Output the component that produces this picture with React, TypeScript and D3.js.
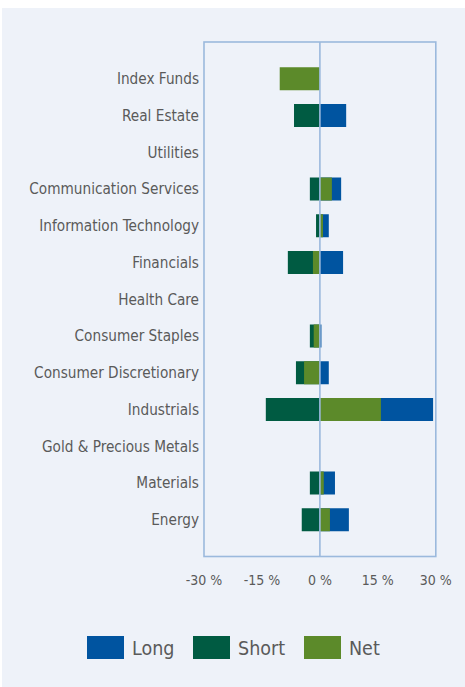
import React from "react";
import * as d3 from "d3";

const categories = [
  "Index Funds",
  "Real Estate",
  "Utilities",
  "Communication Services",
  "Information Technology",
  "Financials",
  "Health Care",
  "Consumer Staples",
  "Consumer Discretionary",
  "Industrials",
  "Gold & Precious Metals",
  "Materials",
  "Energy",
];
const longValues = [0, 6.8, 0, 5.5, 2.3, 6.0, 0, 0.4, 2.3, 29.3, 0, 3.9, 7.5];
const shortValues = [0, -6.7, 0, -2.6, -1.0, -8.3, 0, -2.6, -6.2, -14.0, 0, -2.6, -4.7];
const netValues = [-10.4, 0, 0, 3.1, 0.8, -1.8, 0, -1.6, -4.1, 15.8, 0, 1.0, 2.6];
const ticks = [-30, -15, 0, 15, 30];
const seriesNames = ["Long", "Short", "Net"];

const COLORS: Record<string, string> = { Long: "#0054a0", Short: "#005b42", Net: "#5c8a2a" };
const FONT = "'Liberation Sans Narrow', 'DejaVu Sans Condensed', 'Liberation Sans', sans-serif";

export default function App() {
  const W = 465, H = 687;
  const left = 204, right = 435.8, top = 42, bottom = 556.5;
  const x = d3.scaleLinear().domain([-30, 30]).range([left, right]);
  const y = d3.scalePoint<string>().domain(categories).range([top, bottom]).padding(1);
  const bh = 23;
  const rows = categories.map((c, i) => ({ c, l: longValues[i], s: shortValues[i], n: netValues[i] }));
  const bar = (v: number) => ({ x: Math.min(x(0), x(v)), w: Math.abs(x(v) - x(0)) });

  return (
    <svg width={W} height={H} style={{ position: "absolute", left: 0, top: 0 }} fontFamily={FONT}>
      <rect x={0} y={0} width={W} height={H} fill="#ffffff" />
      <rect x={2} y={8} width={W - 2} height={H - 8} fill="#eef2f9" />
      {rows.map((r) => {
        const cy = y(r.c)!;
        const items = [
          { k: "Short", v: r.s },
          { k: "Long", v: r.l },
          { k: "Net", v: r.n },
        ];
        return (
          <g key={r.c}>
            {items.map((it) => {
              if (it.v === 0) return null;
              const b = bar(it.v);
              return <rect key={it.k} x={b.x} y={cy - bh / 2} width={b.w} height={bh} fill={COLORS[it.k]} />;
            })}
            <text x={199} y={cy} dy="0.35em" textAnchor="end" fontSize={15.2} fill="#5a5a5a">
              {r.c}
            </text>
          </g>
        );
      })}
      <line x1={x(0)} x2={x(0)} y1={top} y2={bottom} stroke="#9bb9dd" strokeWidth={1.6} />
      <rect x={left} y={top} width={right - left} height={bottom - top} fill="none" stroke="#9bb9dd" strokeWidth={1.6} />
      {ticks.map((t) => (
        <text key={t} x={x(t)} y={585} textAnchor="middle" fontSize={14} fill="#5a5a5a">
          {`${t} %`}
        </text>
      ))}
      {seriesNames.map((s, i) => {
        const lx = [87, 193, 304][i];
        return (
          <g key={s}>
            <rect x={lx} y={636} width={37} height={23} fill={COLORS[s]} />
            <text x={lx + 45} y={655} fontSize={19.5} fill="#5a5a5a">
              {s}
            </text>
          </g>
        );
      })}
    </svg>
  );
}
